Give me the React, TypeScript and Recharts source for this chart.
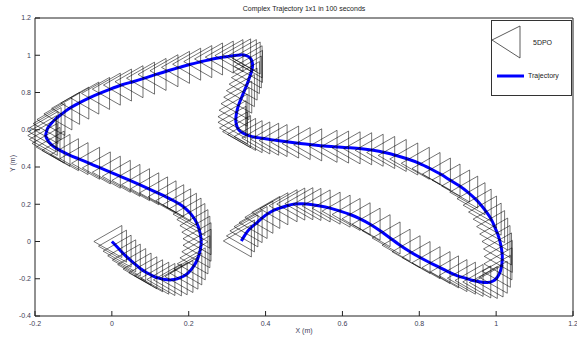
import React from 'react';
import { LineChart, Line, XAxis, YAxis } from 'recharts';

// MATLAB-style figure: robot poses (triangles) along a trajectory
document.body.style.margin = '0';

const trajX = [
  0.0, 0.012, 0.024, 0.036, 0.048, 0.062, 0.076, 0.091, 0.106, 0.122, 0.138,
  0.155, 0.17, 0.185, 0.198, 0.208, 0.217, 0.224, 0.229, 0.232, 0.232, 0.229, 0.224, 0.216, 0.206,
  0.194, 0.179, 0.161, 0.141, 0.119, 0.096, 0.072, 0.047, 0.022, -0.004, -0.03, -0.058, -0.088, -0.113, -0.135,
  -0.15, -0.161, -0.168, -0.172, -0.17, -0.166, -0.158, -0.148, -0.13, -0.11, -0.086, -0.06, -0.032,
  -0.004, 0.025, 0.055, 0.085, 0.115, 0.146, 0.176, 0.205, 0.234, 0.262, 0.29, 0.315, 0.335,
  0.35, 0.36, 0.365, 0.366, 0.363, 0.358, 0.352, 0.345, 0.338, 0.331, 0.326, 0.323, 0.323, 0.327,
  0.335, 0.348, 0.365, 0.385, 0.408, 0.43, 0.46, 0.49, 0.52, 0.56, 0.59, 0.62, 0.65, 0.68, 0.71,
  0.74, 0.77, 0.8, 0.828, 0.855, 0.88, 0.905, 0.926, 0.945, 0.961, 0.975, 0.987, 0.996, 1.004,
  1.01, 1.014, 1.016, 1.015, 1.011, 1.003, 0.992, 0.977, 0.96, 0.94, 0.92, 0.898, 0.876, 0.854,
  0.828, 0.802, 0.776, 0.75, 0.724, 0.698, 0.672, 0.646, 0.62, 0.594, 0.568, 0.542, 0.518, 0.497,
  0.476, 0.456, 0.432, 0.411, 0.393, 0.378, 0.365, 0.354, 0.345, 0.337,
];

const trajY = [
  0.0, -0.025, -0.052, -0.077, -0.1, -0.124, -0.148, -0.168, -0.184, -0.197, -0.204,
  -0.206, -0.2, -0.188, -0.17, -0.147, -0.12, -0.088, -0.055, -0.02, 0.015, 0.05, 0.085, 0.118, 0.147,
  0.173, 0.197, 0.219, 0.24, 0.261, 0.283, 0.305, 0.328, 0.35, 0.372, 0.395, 0.42, 0.445, 0.466, 0.489,
  0.507, 0.527, 0.548, 0.569, 0.59, 0.612, 0.633, 0.655, 0.685, 0.715, 0.743, 0.77, 0.795,
  0.818, 0.84, 0.858, 0.877, 0.897, 0.917, 0.935, 0.952, 0.966, 0.98, 0.99, 0.998, 1.002,
  0.998, 0.985, 0.965, 0.94, 0.91, 0.88, 0.845, 0.81, 0.775, 0.74, 0.705, 0.67, 0.64, 0.61,
  0.59, 0.575, 0.563, 0.556, 0.549, 0.542, 0.534, 0.526, 0.519, 0.511, 0.507, 0.503, 0.498, 0.49, 0.478,
  0.462, 0.443, 0.42, 0.392, 0.362, 0.33, 0.298, 0.265, 0.23, 0.195, 0.158, 0.12, 0.08, 0.04,
  0.0, -0.04, -0.08, -0.12, -0.16, -0.192, -0.212, -0.22, -0.217, -0.209, -0.197, -0.183, -0.163, -0.14,
  -0.114, -0.086, -0.055, -0.02, 0.019, 0.058, 0.093, 0.122, 0.145, 0.163, 0.179, 0.191, 0.199, 0.203,
  0.201, 0.192, 0.176, 0.156, 0.13, 0.102, 0.08, 0.057, 0.03, 0.003,
];

const xTicks = [-0.2, 0, 0.2, 0.4, 0.6, 0.8, 1, 1.2];
const yTicks = [-0.4, -0.2, 0, 0.2, 0.4, 0.6, 0.8, 1, 1.2];

const chartTitle = 'Complex Trajectory 1x1 in 100 seconds';
const xLabel = 'X (m)';
const yLabel = 'Y (m)';
const poseName = '5DPO';
const pathName = 'Trajectory';

const data = trajX.map((x, i) => ({ x, y: trajY[i] }));

const font = '"Liberation Sans", Arial, sans-serif';
const textColor = '#3c3c55';
const tickStyle = { fontSize: 7, fill: textColor, fontFamily: font };

// robot drawn as a triangle: apex to the left, flat back on the right
function Pose(props: any) {
  const { cx, cy, index } = props;
  if (cx == null || cy == null) return <g key={`p-${index}`} />;
  const pts = `${cx - 18},${cy} ${cx + 10},${cy - 16} ${cx + 10},${cy + 16}`;
  return (
    <polygon key={`p-${index}`} points={pts} fill="none" stroke="#000" strokeWidth={0.55} />
  );
}

export default function App() {
  return (
    <div style={{ position: 'relative', width: 577, height: 340, background: '#fff' }}>
      <LineChart width={577} height={340} data={data} margin={{ top: 17, right: 3, bottom: 0, left: 0 }}>
        <XAxis
          dataKey="x"
          type="number"
          domain={[-0.2, 1.2]}
          ticks={xTicks}
          height={24}
          tickSize={-5}
          tickMargin={10}
          tick={tickStyle}
          stroke="#222"
          interval={0}
        />
        <XAxis
          xAxisId="top"
          orientation="top"
          type="number"
          domain={[-0.2, 1.2]}
          ticks={xTicks}
          height={1}
          tickSize={-5}
          tick={false}
          stroke="#222"
          interval={0}
        />
        <YAxis
          type="number"
          domain={[-0.4, 1.2]}
          ticks={yTicks}
          width={35}
          tickSize={-5}
          tickMargin={9}
          tick={tickStyle}
          stroke="#222"
          interval={0}
        />
        <YAxis
          yAxisId="right"
          orientation="right"
          type="number"
          domain={[-0.4, 1.2]}
          ticks={yTicks}
          width={1}
          tickSize={-5}
          tick={false}
          stroke="#222"
          interval={0}
        />
        <Line
          dataKey="y"
          stroke="none"
          dot={Pose}
          activeDot={false}
          isAnimationActive={false}
          legendType="none"
        />
        <Line
          dataKey="y"
          type="natural"
          stroke="#0000ff"
          strokeWidth={3}
          dot={false}
          activeDot={false}
          isAnimationActive={false}
        />
      </LineChart>

      <div style={{ position: 'absolute', left: 0, top: 5, width: 608, textAlign: 'center', fontFamily: font, fontSize: 7, color: '#222' }}>
        {chartTitle}
      </div>
      <div style={{ position: 'absolute', left: 0, top: 327, width: 608, textAlign: 'center', fontFamily: font, fontSize: 7, color: textColor }}>
        {xLabel}
      </div>
      <div style={{ position: 'absolute', left: -8, top: 160, width: 40, textAlign: 'center', fontFamily: font, fontSize: 7, color: textColor, transform: 'rotate(-90deg)' }}>
        {yLabel}
      </div>

      <div style={{ position: 'absolute', left: 491, top: 20, width: 79, height: 74, border: '1px solid #333', background: '#fff', fontFamily: font, fontSize: 7, color: '#222' }}>
        <svg width={79} height={74} style={{ position: 'absolute', left: 0, top: 0 }}>
          <polygon points="0,19 28,5 28,37" fill="none" stroke="#333" strokeWidth={0.8} />
          <line x1={5} y1={55} x2={32} y2={55} stroke="#0000ff" strokeWidth={3} />
        </svg>
        <span style={{ position: 'absolute', left: 41, top: 18 }}>{poseName}</span>
        <span style={{ position: 'absolute', left: 36, top: 51 }}>{pathName}</span>
      </div>
    </div>
  );
}
